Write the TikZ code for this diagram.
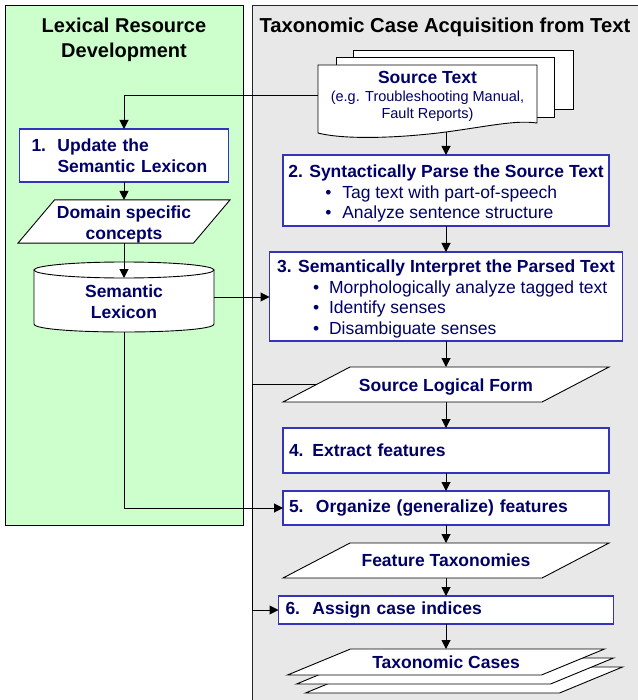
\documentclass[tikz,border=0pt]{standalone}
\usepackage{fontspec}
\setmainfont{Liberation Sans}
\usetikzlibrary{calc,arrows.meta,backgrounds}
\definecolor{navy}{HTML}{000066}
\definecolor{boxblue}{HTML}{3333BB}
\definecolor{panelgreen}{HTML}{CCFFCC}
\definecolor{panelgray}{HTML}{E8E8E8}
\newcommand\paragram[3]{%
  \path[shp] ($(#1.north west)+(#2,0)+(#3)$) -- ($(#1.north east)+(#2,0)+(#3)$)
    -- ($(#1.south east)-(#2,0)+(#3)$) -- ($(#1.south west)-(#2,0)+(#3)$) -- cycle;}
\begin{document}
\begin{tikzpicture}[x=1pt,y=-1pt,
  every node/.style={inner sep=0pt, outer sep=0pt},
  box/.style={draw=boxblue, line width=1.1pt, fill=white, text=navy,
    font=\bfseries\fontsize{17.5}{20.5}\selectfont, align=left},
  shp/.style={draw=black, line width=0.9pt, fill=white},
  lbl/.style={text=navy, font=\bfseries\fontsize{17.5}{21}\selectfont, align=center},
  conn/.style={draw=black, line width=1pt},
  arr/.style={conn, -{Triangle[length=9pt,width=9pt]}},
  ptitle/.style={text=black, font=\bfseries\fontsize{20}{25}\selectfont, align=center}
]
\useasboundingbox (0,0) rectangle (637,700);

% panel titles
\node[ptitle] (tl) at (124,39.5) {Lexical Resource\\Development};
\node[ptitle, font=\bfseries\fontsize{20.2}{25}\selectfont, anchor=base west] (tr) at (259.5,32.5) {Taxonomic Case Acquisition from Text};

% source text
\node[lbl, font=\fontsize{14.5}{17}\selectfont, minimum width=219, minimum height=72] (src) at (427.5,96)
  {{\bfseries\fontsize{17.5}{18}\selectfont Source Text}\\[1pt](e.g. Troubleshooting Manual,\\Fault Reports)};

% lexical side
\node[box, minimum width=209, minimum height=53, text width=185, inner xsep=12] (b1) at (124,155.5)
  {\makebox[26pt][l]{1.}Update the\\\hspace*{26pt}Semantic Lexicon};
\node[lbl, minimum width=175.5, minimum height=43] (dsc) at (124,221.5) {\rule{0pt}{18.5pt}Domain specific\\concepts};
\node[lbl, minimum width=180, minimum height=70] (sl) at (124,297) {\rule{0pt}{22pt}Semantic\\Lexicon};

% acquisition side
\node[box, minimum width=326, minimum height=71] (b2) at (446,190.5)
  {\rule{0pt}{18.8pt}2. Syntactically Parse the Source Text\\{\mdseries\hspace*{37pt}\makebox[17pt][l]{\textbullet}Tag text with part-of-speech}\\{\mdseries\hspace*{37pt}\makebox[17pt][l]{\textbullet}Analyze sentence structure}};
\node[box, minimum width=353, minimum height=89] (b3) at (446,296.5)
  {\rule{0pt}{17.8pt}3. Semantically Interpret the Parsed Text\\{\mdseries\hspace*{36pt}\makebox[16pt][l]{\textbullet}Morphologically analyze tagged text}\\{\mdseries\hspace*{36pt}\makebox[16pt][l]{\textbullet}Identify senses}\\{\mdseries\hspace*{36pt}\makebox[16pt][l]{\textbullet}Disambiguate senses}};
\node[lbl, minimum width=259, minimum height=35] (slf) at (446,384.5) {\rule{0pt}{16.8pt}Source Logical Form};
\node[box, minimum width=326, minimum height=45, text width=314, inner xsep=6] (b4) at (446,450.5) {4. Extract features};
\node[box, minimum width=326, minimum height=34, text width=314, inner xsep=6] (b5) at (446,508)
  {\makebox[27pt][l]{5.}Organize (generalize) features};
\node[lbl, minimum width=259, minimum height=35] (ft) at (446,560.5) {Feature Taxonomies};
\node[box, minimum width=335, minimum height=28, text width=321, inner xsep=7] (b6) at (446,610)
  {\makebox[27pt][l]{6.}Assign case indices};
\node[lbl, minimum width=254, minimum height=26] (tc) at (446,662) {Taxonomic Cases};

\begin{pgfonlayer}{background}
  \path[draw=black, line width=1pt, fill=panelgreen] (5,6) rectangle (243,525);
  \path[draw=black!85, line width=1pt, fill=panelgray] (252,6) rectangle (660,720);
  % document stack
  \path[shp] (353,50) rectangle (573,109);
  \path[shp] (336,57) rectangle (554,117);
  \path[shp] (318,65) -- (537,65) -- (537,123) .. controls (515,120) and (490,126) .. (446,132)
    .. controls (400,138) and (345,140) .. (318,133) -- cycle;
  % cylinder
  \path[shp] (34,270) -- (34,324) .. controls (34,334.67) and (214,334.67) .. (214,324) -- (214,270) -- cycle;
  \path[shp] (124,270) ellipse [x radius=90pt, y radius=8pt];
  % data shapes
  \paragram{dsc}{18.25}{0,0}
  \paragram{slf}{33.5}{0,0}
  \paragram{ft}{33.5}{0,0}
  \paragram{tc}{31.5}{18,18}
  \paragram{tc}{31.5}{9,9}
  \paragram{tc}{31.5}{0,0}
\end{pgfonlayer}

% connectors
\coordinate (bend) at (252,384.5);
\draw[arr] (src.west) -| (b1.north);
\draw[arr] (src.south -| b2.north) -- (b2.north);
\draw[arr] (b1.south) -- (dsc.north);
\draw[arr] (dsc.south) -- ($(sl.north)+(0,16)$);
\draw[arr] (sl.east) -- (sl.east -| b3.west);
\draw[arr] (sl.south) |- (b5.west);
\draw[arr] (b2.south) -- (b3.north);
\draw[arr] (b3.south) -- (slf.north);
\draw[arr] (slf.south) -- (b4.north);
\draw[arr] (b4.south) -- (b5.north);
\draw[arr] (b5.south) -- (ft.north);
\draw[arr] (ft.south) -- (b6.north);
\draw[arr] (b6.south) -- (tc.north);
\draw[arr] (slf.west) -- (bend) |- (b6.west);
\end{tikzpicture}
\end{document}
